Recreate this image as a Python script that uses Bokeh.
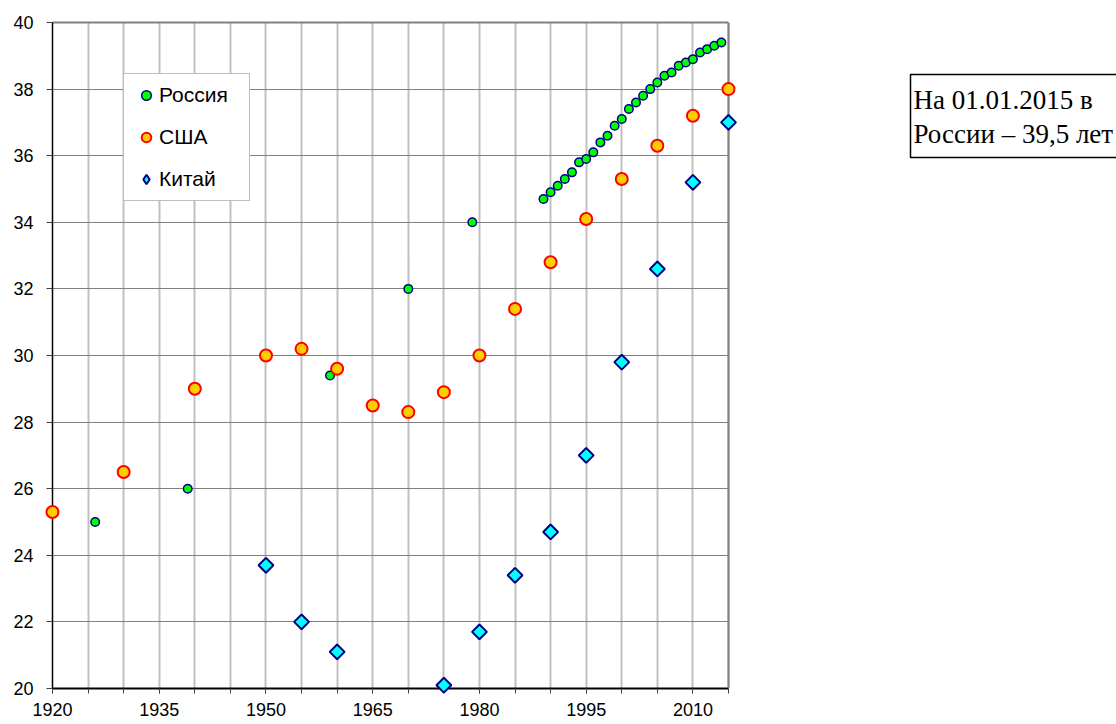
import numpy as np
from bokeh.plotting import figure
from bokeh.models import (Range1d, FixedTicker, LinearAxis, Grid, Legend,
                          LegendItem, Label)
from bokeh.layouts import row
from bokeh.embed import file_html
from bokeh.resources import INLINE

# ---- data -------------------------------------------------------------
russia_years = [1926, 1939, 1959, 1970, 1979,
                1989, 1990, 1991, 1992, 1993, 1994, 1995, 1996, 1997, 1998,
                1999, 2000, 2001, 2002, 2003, 2004, 2005, 2006, 2007, 2008,
                2009, 2010, 2011, 2012, 2013, 2014]
russia_age = [25.0, 26.0, 29.4, 32.0, 34.0,
              34.7, 34.9, 35.1, 35.3, 35.5, 35.8, 35.9, 36.1, 36.4, 36.6,
              36.9, 37.1, 37.4, 37.6, 37.8, 38.0, 38.2, 38.4, 38.5, 38.7,
              38.8, 38.9, 39.1, 39.2, 39.3, 39.4]

usa_years = [1920, 1930, 1940, 1950, 1955, 1960, 1965, 1970, 1975, 1980,
             1985, 1990, 1995, 2000, 2005, 2010, 2015]
usa_age = [25.3, 26.5, 29.0, 30.0, 30.2, 29.6, 28.5, 28.3, 28.9, 30.0,
           31.4, 32.8, 34.1, 35.3, 36.3, 37.2, 38.0]

china_years = [1950, 1955, 1960, 1975, 1980, 1985, 1990, 1995, 2000, 2005,
               2010, 2015]
china_age = [23.7, 22.0, 21.1, 20.1, 21.7, 23.4, 24.7, 27.0, 29.8, 32.6,
             35.2, 37.0]

x_label_ticks = [1920, 1935, 1950, 1965, 1980, 1995, 2010]
x_grid_ticks = [1920, 1925, 1930, 1935, 1940, 1945, 1950, 1955, 1960, 1965,
                1970, 1975, 1980, 1985, 1990, 1995, 2000, 2005, 2010, 2015]
y_ticks = [20, 22, 24, 26, 28, 30, 32, 34, 36, 38, 40]

legend_labels = ["Россия", "США", "Китай"]
note_lines = ["На 01.01.2015 в", "России – 39,5 лет"]

# ---- layout constants -------------------------------------------------
X_MIN, X_MAX = 1920, 2015
Y_MIN, Y_MAX = 20, 40
PLOT_W = 676            # pixels between 1920 and 2015
PAD_R = 10              # frame padding on the right so edge markers show
pxy = PLOT_W / (X_MAX - X_MIN)
x1 = X_MAX + PAD_R / pxy
FRAME_W = PLOT_W + PAD_R

W1, H = 878, 724
ML, MT, MB = 52, 22, 36

p = figure(width=W1, height=H, x_range=Range1d(X_MIN, x1),
           y_range=Range1d(Y_MIN, Y_MAX), x_axis_type=None, y_axis_type=None,
           output_backend="svg", toolbar_location=None,
           min_border_left=ML, min_border_right=W1 - ML - FRAME_W,
           min_border_top=MT, min_border_bottom=MB)
p.outline_line_color = None
p.background_fill_color = "white"
p.border_fill_color = "white"

# grids
vgrid = Grid(dimension=0, ticker=FixedTicker(ticks=x_grid_ticks),
             grid_line_color="#C0C0C0", grid_line_width=2)
hgrid = Grid(dimension=1, ticker=FixedTicker(ticks=y_ticks),
             cross_bounds=(X_MIN, X_MAX),
             grid_line_color="#808080", grid_line_width=1)
p.add_layout(vgrid)
p.add_layout(hgrid)

FONT = "Liberation Sans"

xaxis = LinearAxis(ticker=FixedTicker(ticks=x_label_ticks, minor_ticks=x_grid_ticks),
                   bounds=(X_MIN, X_MAX), axis_line_color="black", axis_line_width=2,
                   major_tick_out=5, major_tick_in=0, minor_tick_out=5, minor_tick_in=0,
                   major_tick_line_color="#404040", minor_tick_line_color="#404040",
                   major_label_text_font=FONT, major_label_text_font_size="18px",
                   major_label_text_color="black", major_label_standoff=9)
p.add_layout(xaxis, "below")

yaxis = LinearAxis(ticker=FixedTicker(ticks=y_ticks), bounds=(Y_MIN, Y_MAX),
                   axis_line_color="black", axis_line_width=1.5,
                   major_tick_out=6, major_tick_in=0, minor_tick_out=0, minor_tick_in=0,
                   major_tick_line_color="#404040",
                   major_label_text_font=FONT, major_label_text_font_size="18px",
                   major_label_text_color="black", major_label_standoff=13)
p.add_layout(yaxis, "left")

raxis = LinearAxis(ticker=FixedTicker(ticks=[]), bounds=(Y_MIN, Y_MAX),
                   fixed_location=X_MAX, axis_line_color="#808080", axis_line_width=2,
                   major_tick_out=0, major_tick_in=0, minor_tick_out=0, minor_tick_in=0,
                   major_label_text_font_size="0px")
p.add_layout(raxis, "right")

taxis = LinearAxis(ticker=FixedTicker(ticks=[]), bounds=(X_MIN, X_MAX),
                   axis_line_color="#808080", axis_line_width=2,
                   major_tick_out=0, major_tick_in=0, minor_tick_out=0, minor_tick_in=0,
                   major_label_text_font_size="0px")
p.add_layout(taxis, "above")

# markers
r_ru = p.scatter(russia_years, russia_age, marker="circle", size=8.5,
                 fill_color="#00FF00", line_color="#000080", line_width=1.5)
r_us = p.scatter(usa_years, usa_age, marker="circle", size=12,
                 fill_color="#FFCC00", line_color="#FF0000", line_width=2)
r_cn = p.scatter(china_years, china_age, marker="square", angle=np.pi / 4,
                 size=10.5, fill_color="#00FFFF", line_color="#000080", line_width=2)
for r in (r_ru, r_us, r_cn):
    r.level = "overlay"
# hidden twin of the China series, used only as the legend swatch
# (the legend does not rotate markers, so it uses the diamond shape)
r_cn_key = p.scatter(china_years, china_age, marker="diamond", size=12,
                     fill_color="#00FFFF", line_color="#000080", line_width=2,
                     visible=False)

legend = Legend(items=[LegendItem(label=legend_labels[0], renderers=[r_ru]),
                       LegendItem(label=legend_labels[1], renderers=[r_us]),
                       LegendItem(label=legend_labels[2], renderers=[r_cn_key])],
                location=(71, 487), orientation="vertical",
                glyph_width=26, glyph_height=24, label_height=24, label_width=81,
                spacing=18, padding=9, margin=0, label_standoff=0,
                label_text_font=FONT, label_text_font_size="21px",
                label_text_color="black", click_policy="none",
                border_line_color="#808080", border_line_width=1,
                background_fill_color="white", background_fill_alpha=1.0)
p.add_layout(legend)

# ---- note box ---------------------------------------------------------
# the row aligns this figure's frame with the chart frame (page y 22..688),
# so its y range is expressed in page pixels
W2 = 238
p2 = figure(width=W2, height=H, x_range=Range1d(0, W2),
            y_range=Range1d(H - MB, MT),
            x_axis_type=None, y_axis_type=None, output_backend="svg",
            toolbar_location=None, min_border=0)
p2.outline_line_color = None
p2.background_fill_color = "white"
p2.border_fill_color = "white"
p2.quad(left=[32], right=[W2 + 60], top=[74], bottom=[157],
        fill_color=None, line_color="black", line_width=1.5)
for i, t in enumerate(note_lines):
    p2.add_layout(Label(x=35, y=99 + 34 * i, text=t,
                        text_font="Liberation Serif", text_font_size="27px",
                        text_color="black", text_baseline="alphabetic"))

layout = row(p, p2)
open("out.html", "w").write(file_html(layout, INLINE))
